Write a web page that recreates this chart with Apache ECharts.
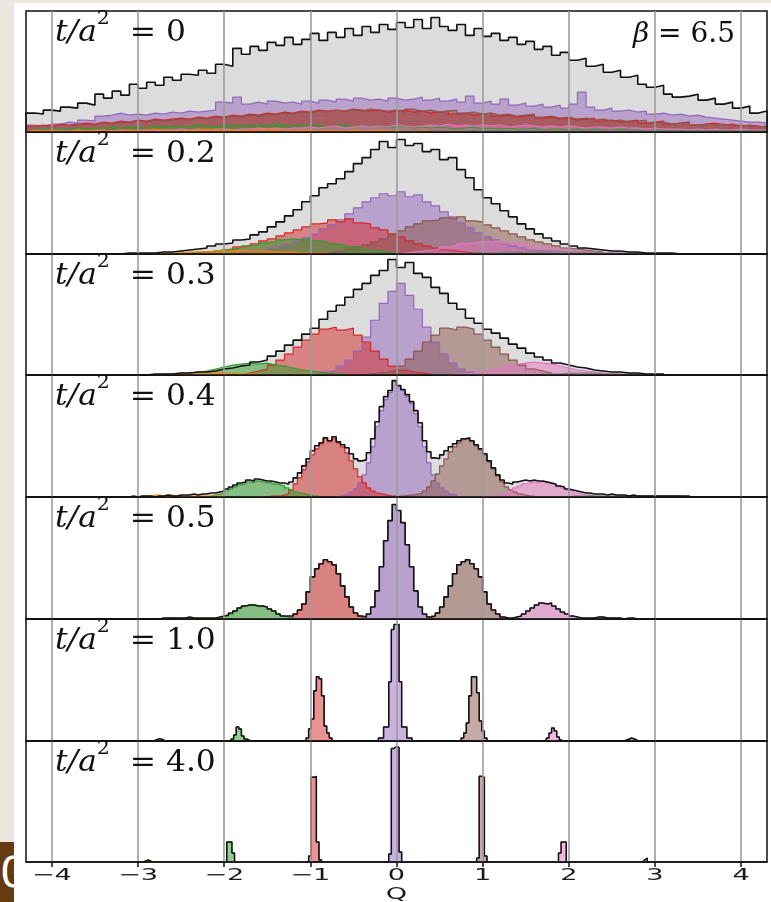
<!DOCTYPE html>
<html>
<head>
<meta charset="utf-8">
<script src="https://cdn.jsdelivr.net/npm/echarts@6/dist/echarts.min.js"></script>
<style>
  html, body { margin: 0; padding: 0; background: #ebe7df; }
  #paper { position: absolute; left: 14px; top: 3px; right: 0; bottom: 0; background: #fff; }
  #tab { position: absolute; left: 0; top: 842px; width: 14px; height: 60px; background: #683b0e; overflow: hidden; }
  #tab span { position: absolute; left: 0; top: 10px; color: #fff; font: 42px 'DejaVu Sans'; line-height: 42px; }
  #chart { position: absolute; left: 0; top: 0; width: 771px; height: 902px; }
</style>
</head>
<body>
<div id="paper"></div>
<div id="tab"><span>0</span></div>
<div id="chart"></div>
<script>
// Topological charge histograms at increasing gradient-flow time, beta = 6.5.
// Heights in "panel units" (full panel ~121).

const TICKS = [-4, -3, -2, -1, 0, 1, 2, 3, 4];
const FLOW_TIMES = ['0', '0.2', '0.3', '0.4', '0.5', '1.0', '4.0'];
const BIN_WIDTH = [0.1, 0.1, 0.1, 0.05, 0.05, 0.03, 0.03];
const SECTOR_ORDER = ['q0', 'qm1', 'qp1', 'qm2', 'qp2', 'qm3', 'qp3'];
const SECTOR_COLORS = {
  q0: '#9467bd', qm1: '#d62728', qp1: '#8c564b',
  qm2: '#2ca02c', qp2: '#e377c2', qm3: '#ff7f0e', qp3: '#7f7f7f'
};

// ---- t/a^2 = 0 ----
const T0_ALL = { from: -4.3, n: [
  19,18,22,21,25,24,29,27,38,34, 41,37,48,44,50,47,55,52,58,57,
  62,59,68,66,84,78,86,82,90,87, 95,88,93,99,92,100,95,104,97,106,
  100,108,103,110,105,113,104,115,106,102, 108,97,104,96,99,92,95,88,91,83,
  86,77,80,72,74,66,68,60,62,55, 57,48,45,47,38,35,36,38,32,34,
  28,30,24,26,19,21] };
const T0_Q0 = { from: -4.3, n: [
  7,6,8,8,10,9,12,11,16,17, 19,17,18,17,19,18,20,19,21,20,
  21,22,30,29,35,28,30,28,31,29, 30,28,31,29,32,30,33,31,34,32,
  33,31,34,32,33,35,32,34,31,33, 30,36,29,31,28,33,27,29,26,28,
  25,27,24,28,40,25,22,24,21,22, 20,21,18,19,17,18,16,17,15,14,
  13,12,11,10,10,9] };
const T0_QM1 = { from: -4.3, n: [
  6,7,6,8,7,8,9,8,10,9, 11,10,12,11,13,12,13,14,13,15,
  14,16,15,17,16,18,17,19,18,20, 19,21,20,22,21,22,21,23,22,21,
  22,20,21,22,20,21,19,20,21,18, 19,17,18,19,16,17,15,16,17,14,
  15,13,14,12,13,14,11,12,10,11, 12,9,10,11,8,9,10,7,8,9,
  7,8,6,7,6,5] };
const T0_QP1 = { from: -4.3, n: [
  5,6,5,7,6,7,8,7,9,8, 10,9,11,10,12,11,12,13,12,14,
  13,15,14,16,15,17,16,18,17,19, 18,20,19,21,20,22,21,22,21,23,
  22,21,22,20,23,21,22,20,21,22, 19,20,18,19,17,18,16,17,18,15,
  16,14,15,13,14,12,13,11,12,10, 11,12,9,10,8,9,10,7,8,7,
  8,6,7,6,5,6] };
const T0_QM2 = { from: -4.3, n: [
  2,3,2,3,3,4,3,4,4,5, 4,5,5,4,6,5,6,5,6,7,
  6,5,7,6,7,6,7,6,8,7, 6,7,6,7,5,6,7,5,6,5,
  6,4,5,6,4,5,4,5,4,3, 4,5,3,4,3,4,3,3,4,2,
  3,3,2,3,2,3,2,2,3,2, 2,1,2,2,1,2,1,2,1,1,
  2,1,1,1,1,1] };
const T0_QP2 = { from: -4.3, n: [
  1,1,1,1,1,2,1,1,2,1, 2,1,2,2,1,2,2,3,2,3,
  2,3,3,2,3,3,4,3,4,3, 4,4,5,4,5,6,4,5,6,5,
  6,5,7,6,5,6,7,6,8,6, 7,6,7,6,7,5,6,7,6,5,
  6,5,6,5,4,5,5,4,5,4, 4,3,4,3,3,3,2,3,2,3,
  2,2,3,2,2,2] };
const T0_QM3 = { from: -4.3, n: [
  2,1,2,1,1,2,1,2,2,1, 2,2,1,2,3,2,2,1,2,2, 3,2,2,2,1,2,2,3,2,2,
  1,2,2,1,2,1,1,2,1,1, 2,1,1,1,1,2,1,1,1,1] };
const T0_QP3 = { from: 0.0, n: [
  1,1,1,1,2,1,1,1,2,1, 1,2,1,1,2,1,2,1,1,2, 1,2,2,1,2,1,2,2,1,2,
  1,1,2,1,2,1,1,2,1,1, 2,1,1] };

// ---- t/a^2 = 0.2 ----
const T02_ALL = { from: -3.3, n: [
  0,1,1,1,1,2,2,3,4,5, 6,8,10,11,14,15,19,22,27,32,
  38,44,52,58,66,70,75,82,90,96, 104,112,106,114,108,110,102,104,94,96,
  84,76,64,56,50,43,37,30,25,20, 16,13,10,8,6,5,4,3,3,2,
  2,1,1,1,1,0] };
const T02_Q0 = { from: -1.8, n: [2,3,4,6,8,10,13,16,20,25,29,34,40,46,52,56,60,58,62,57,59,52,48,42,37,31,26,21,17,14,10,8,6,4,3,2] };
const T02_QM1 = { from: -2.4, n: [1,2,3,4,5,7,8,10,13,15,18,21,24,27,30,31,34,32,35,31,30,26,24,20,17,13,10,8,6,4,3,2,1,1] };
const T02_QP1 = { from: -1.0, n: [1,1,2,3,5,7,9,12,15,19,23,27,30,33,34,36,35,37,33,32,29,26,23,20,17,14,12,10,8,6,5,4,3,2] };
const T02_QM2 = { from: -2.6, n: [1,1,2,2,3,4,5,6,8,9,11,12,14,15,14,15,13,12,10,9,7,6,4,3,2,1] };
const T02_QP2 = { from: 0.0, n: [1,2,3,4,5,7,8,10,11,12,12,13,11,11,10,8,7,6,5,4,3,2,2,1,1,1] };
const T02_QM3 = { from: -2.8, n: [1,1,1,2,2,2,3,3,3,4,3,3,3,2,2,2,1,1,1,1] };
const T02_QP3 = { from: 0.8, n: [1,1,1,1,2,2,2,3,3,3,3,2,2,2,2,1,1,1,1,1] };

// ---- t/a^2 = 0.3 ----
const T03_ALL = { from: -2.9, n: [
  1,1,1,2,2,3,3,4,6,7, 9,10,13,15,19,24,30,35,41,47,
  56,64,70,78,86,92,100,105,116,108, 113,102,98,88,82,72,66,57,52,46,
  42,37,31,27,22,18,15,12,10,8, 7,5,4,3,3,2,2,1,1,1] };
const T03_Q0 = { from: -0.9, n: [3,5,9,15,24,38,55,72,84,92,80,66,48,33,21,12,6,3] };
const T03_QM1 = { from: -1.8, n: [2,4,6,10,15,21,28,35,41,46,48,45,47,40,33,24,16,9,5,3,2,1] };
const T03_QP1 = { from: -0.4, n: [1,2,3,5,9,16,24,33,40,47,45,48,46,41,35,28,21,15,10,6,4,2] };
const T03_QM2 = { from: -2.6, n: [1,2,3,4,6,8,10,11,12,11,12,10,9,7,5,4,3,2,1,1] };
const T03_QP2 = { from: 0.6, n: [1,1,2,3,5,7,9,11,12,13,12,11,9,7,5,4,3,2,1,1] };
const T03_QM3 = { from: -2.8, n: [1,1,2,2,3,3,3,2,2,1,1,1] };
const T03_QP3 = { from: 1.6, n: [1,1,1,2,2,2,2,1,1,1,1,1] };

// ---- t/a^2 = 0.4 ----
const T04_ALL = { from: -3.1, n: [
  1,0,1,1,1,0,1,1,2,1,1,2,
  2,2,3,2,3,3,4,4,5,6, 8,10,12,14,15,17,16,18,17,16,
  16,15,14,14,13,15,19,24,31,38, 46,51,54,59,56,60,55,52,49,43,
  38,36,37,44,58,75,90,100,106,116, 111,107,102,95,86,74,56,45,39,38,
  42,46,50,53,56,58,59,56,52,48, 43,36,29,22,17,14,13,15,16,17,
  16,17,16,16,15,14,13,11,10,8, 7,6,5,4,4,3,3,3,2,3,
  2,2,2,1,2,1,1,1,1,1, 1,1,1,1,1,1,1,1] };
const T04_Q0 = { from: -0.7, n: [1,2,3,5,8,14,22,34,50,70,86,97,104,115,110,106,100,93,83,70,50,34,22,14,9,6,3,2] };
const T04_QM1 = { from: -1.5, n: [1,1,1,2,3,7,13,19,27,35,42,48,53,58,55,58,54,50,44,36,28,20,14,9,6,4,3,2,1,1] };
const T04_QP1 = { from: 0.0, n: [1,1,2,2,3,4,6,10,16,23,31,38,45,50,54,57,58,55,51,47,42,35,28,21,15,10,7,5,3,2,1,1] };
const T04_QM2 = { from: -2.2, n: [1,2,3,4,6,8,10,12,13,15,14,16,15,14,15,13,12,11,9,7,5,4,3,2,1,1] };
const T04_QP2 = { from: 1.0, n: [1,1,1,2,3,4,6,9,11,13,14,15,14,15,14,13,12,11,9,7,6,4,3,2,2,1,1,1] };
const T04_QM3 = { from: -3.0, n: [1,1,1,2,2,1,2,2,1,1,1,1,1,1,1,1,1,1,1,1] };
const T04_QP3 = { from: 2.0, n: [1,1,1,1,2,1,1,1,1,1,1,1,1,1,1,1,1,1,1,1,1,1,1,1,1,1] };

// ---- t/a^2 = 0.5 ----
const T05_ALL = { from: -2.8, n: [
  0,1,1,1,1,1,1,2,1,1, 1,1,1,1,2,3,4,6,8,11,
  13,14,14,13,13,12,10,8,5,3, 3,3,5,9,15,27,42,50,55,59,
  57,54,45,33,22,12,6,3,2,5, 12,28,52,78,98,114,108,96,74,52,
  28,12,5,2,3,6,12,22,33,45, 54,57,59,55,50,42,27,15,9,5,
  2,1,1,2,3,5,8,11,14,16, 15,16,13,10,7,5,3,2,1,1,
  1,1,2,2,1,1,1,1,0,1, 1,0] };
const T05_Q0 = { from: -0.4, n: [2,5,12,28,52,78,98,114,108,96,74,52,28,12,5,2] };
const T05_QM1 = { from: -1.3, n: [1,2,5,9,15,27,42,50,55,59,57,54,45,33,22,12,6,3] };
const T05_QP1 = { from: 0.4, n: [3,6,12,22,33,45,54,57,59,55,50,42,27,15,9,5,2,1] };
const T05_QM2 = { from: -2.1, n: [1,2,3,5,8,11,13,14,14,13,13,12,10,8,5,3,2,1] };
const T05_QP2 = { from: 1.3, n: [1,2,3,5,8,11,14,16,15,16,13,10,7,5,3,2,1,1] };
const T05_QM3 = { from: -2.7, n: [1,1,1,1,1,1,1,1] };
const T05_QP3 = { from: 2.2, n: [1,1,2,2,1,1,1,1] };

// ---- t/a^2 = 1.0 (total coincides with the sectors) ----
const T10_Q0 = { from: -0.21, n: [3,3,14,14,59,111,116,116,59,14,14,3,3] };
const T10_QM1 = { from: -1.05, n: [3,12,22,50,64,62,45,15,8,3] };
const T10_QP1 = { from: 0.75, n: [3,8,18,45,64,64,48,20,10,3] };
const T10_QM2 = { from: -1.92, n: [2,6,14,12,5,2,1] };
const T10_QP2 = { from: 1.71, n: [1,3,8,13,10,4,1] };
const T10_QM3 = { from: -2.82, n: [1,2,2,1] };
const T10_QP3 = { from: 2.64, n: [1,2,3,2,1] };

// ---- t/a^2 = 4.0 ----
const T40_Q0 = { from: -0.09, n: [8,114,116,115,10] };
const T40_QM1 = { from: -1.02, n: [6,85,86,20,2] };
const T40_QP1 = { from: 0.93, n: [4,86,85,6] };
const T40_QM2 = { from: -1.97, n: [20,20,9] };
const T40_QP2 = { from: 1.88, n: [9,20,20] };
const T40_QM3 = { from: -2.94, n: [1,2,1] };
const T40_QP3 = { from: 2.85, n: [2,4] };

const PANELS = [
  { total: T0_ALL, sectors: { q0: T0_Q0, qm1: T0_QM1, qp1: T0_QP1, qm2: T0_QM2, qp2: T0_QP2, qm3: T0_QM3, qp3: T0_QP3 } },
  { total: T02_ALL, sectors: { q0: T02_Q0, qm1: T02_QM1, qp1: T02_QP1, qm2: T02_QM2, qp2: T02_QP2, qm3: T02_QM3, qp3: T02_QP3 } },
  { total: T03_ALL, sectors: { q0: T03_Q0, qm1: T03_QM1, qp1: T03_QP1, qm2: T03_QM2, qp2: T03_QP2, qm3: T03_QM3, qp3: T03_QP3 } },
  { total: T04_ALL, sectors: { q0: T04_Q0, qm1: T04_QM1, qp1: T04_QP1, qm2: T04_QM2, qp2: T04_QP2, qm3: T04_QM3, qp3: T04_QP3 } },
  { total: T05_ALL, sectors: { q0: T05_Q0, qm1: T05_QM1, qp1: T05_QP1, qm2: T05_QM2, qp2: T05_QP2, qm3: T05_QM3, qp3: T05_QP3 } },
  { total: null, sectors: { q0: T10_Q0, qm1: T10_QM1, qp1: T10_QP1, qm2: T10_QM2, qp2: T10_QP2, qm3: T10_QM3, qp3: T10_QP3 } },
  { total: null, sectors: { q0: T40_Q0, qm1: T40_QM1, qp1: T40_QP1, qm2: T40_QM2, qp2: T40_QP2, qm3: T40_QM3, qp3: T40_QP3 } }
];

// layout
const LEFT = 26, WIDTH = 741;
const TOPS = [11, 132, 254, 375, 497, 619, 741];
const BOTTOM = 862;
const Y_MAX = 121.5;
const SERIF = 'DejaVu Serif';
const SANS = 'DejaVu Sans';
const INK = '#111';
const STRETCH = 1.7;   // the source figure is squeezed wide, so the sans text is too

function stepData(h, w) {
  const pts = [[h.from, 0]];
  h.n.forEach((c, k) => pts.push([h.from + k * w, c]));
  pts.push([h.from + h.n.length * w, 0]);
  return pts;
}

function hist(i, h, extra) {
  return Object.assign({
    type: 'line', xAxisIndex: i, yAxisIndex: i, step: 'end',
    data: stepData(h, BIN_WIDTH[i]),
    symbol: 'none', showSymbol: false, silent: true, animation: false
  }, extra);
}

const grid = [], xAxis = [], yAxis = [], series = [], graphic = [];
const fmtTick = v => (v < 0 ? '\u2212' + (-v) : String(v));
const LAST = PANELS.length - 1;

PANELS.forEach((p, i) => {
  const top = TOPS[i];
  const height = (i + 1 < TOPS.length ? TOPS[i + 1] : BOTTOM) - top;
  const last = i === LAST;

  grid.push({ left: LEFT, top, width: WIDTH, height, show: true, borderColor: INK, borderWidth: 1.5 });
  xAxis.push({
    gridIndex: i, type: 'value', min: -4.3, max: 4.3, z: 5,
    axisLine: { show: true, onZero: false, lineStyle: { color: INK, width: 1.5 } },
    splitLine: { show: false },
    axisTick: { show: last, customValues: TICKS, length: 5, lineStyle: { color: INK, width: 1.5 } },
    axisLabel: { show: false }
  });
  yAxis.push({ gridIndex: i, type: 'value', min: 0, max: Y_MAX, show: false });

  // vertical grid lines at the integer charges, behind the histograms
  series.push({
    type: 'line', xAxisIndex: i, yAxisIndex: i, data: [], z: 1, silent: true, animation: false,
    markLine: {
      symbol: ['none', 'none'], silent: true, animation: false, label: { show: false },
      lineStyle: { color: '#9c9c9c', width: 1.6, type: 'solid' },
      data: TICKS.map(t => ({ xAxis: t }))
    }
  });

  if (p.total) {
    series.push(hist(i, p.total, { z: 2, lineStyle: { width: 0 }, areaStyle: { color: '#c4c4c4', opacity: 0.6 } }));
  }
  SECTOR_ORDER.forEach(key => {
    const c = SECTOR_COLORS[key];
    series.push(hist(i, p.sectors[key], { z: 3, lineStyle: { color: c, width: 1.2 }, areaStyle: { color: c, opacity: 0.5 } }));
  });
  if (p.total) {
    series.push(hist(i, p.total, { z: 4, lineStyle: { color: INK, width: 1.6 } }));
  } else {
    SECTOR_ORDER.forEach(key => {
      series.push(hist(i, p.sectors[key], { z: 4, lineStyle: { color: INK, width: 1.5 } }));
    });
  }

  graphic.push({
    type: 'text', x: 55, y: top + 22, z: 10, silent: true, scaleX: 1.08,
    style: {
      text: '{i|t/a}{s|2}{r|  = ' + FLOW_TIMES[i] + '}',
      verticalAlign: 'middle',
      rich: {
        i: { fontFamily: SERIF, fontStyle: 'italic', fontSize: 29, lineHeight: 46, fill: INK, verticalAlign: 'middle' },
        s: { fontFamily: SERIF, fontSize: 19, lineHeight: 22, fill: INK, verticalAlign: 'top' },
        r: { fontFamily: SERIF, fontSize: 29, lineHeight: 46, fill: INK, verticalAlign: 'middle' }
      }
    }
  });
});

graphic.push({
  type: 'text', x: 735, y: 35, z: 10, silent: true,
  style: {
    text: '{i|\u03b2}{r| = 6.5}', align: 'right', verticalAlign: 'middle',
    rich: {
      i: { fontFamily: SERIF, fontStyle: 'italic', fontSize: 28, fill: INK },
      r: { fontFamily: SERIF, fontSize: 28, fill: INK }
    }
  }
});

const chart = echarts.init(document.getElementById('chart'), null, { renderer: 'canvas' });
chart.setOption({ backgroundColor: 'transparent', animation: false, grid, xAxis, yAxis, series });

// tick labels and axis name, placed through the bottom axis scale and stretched like the source
TICKS.forEach(t => {
  graphic.push({
    type: 'text', x: chart.convertToPixel({ xAxisIndex: LAST }, t), y: 876, z: 10, silent: true,
    scaleX: STRETCH,
    style: { text: fmtTick(t), fontFamily: SANS, fontSize: 16, fill: '#1a1a1a', align: 'center', verticalAlign: 'middle' }
  });
});
graphic.push({
  type: 'text', x: chart.convertToPixel({ xAxisIndex: LAST }, 0), y: 895, z: 10, silent: true,
  scaleX: STRETCH,
  style: { text: 'Q', fontFamily: SANS, fontSize: 16, fill: '#1a1a1a', align: 'center', verticalAlign: 'middle' }
});

chart.setOption({ graphic });
</script>
</body>
</html>
